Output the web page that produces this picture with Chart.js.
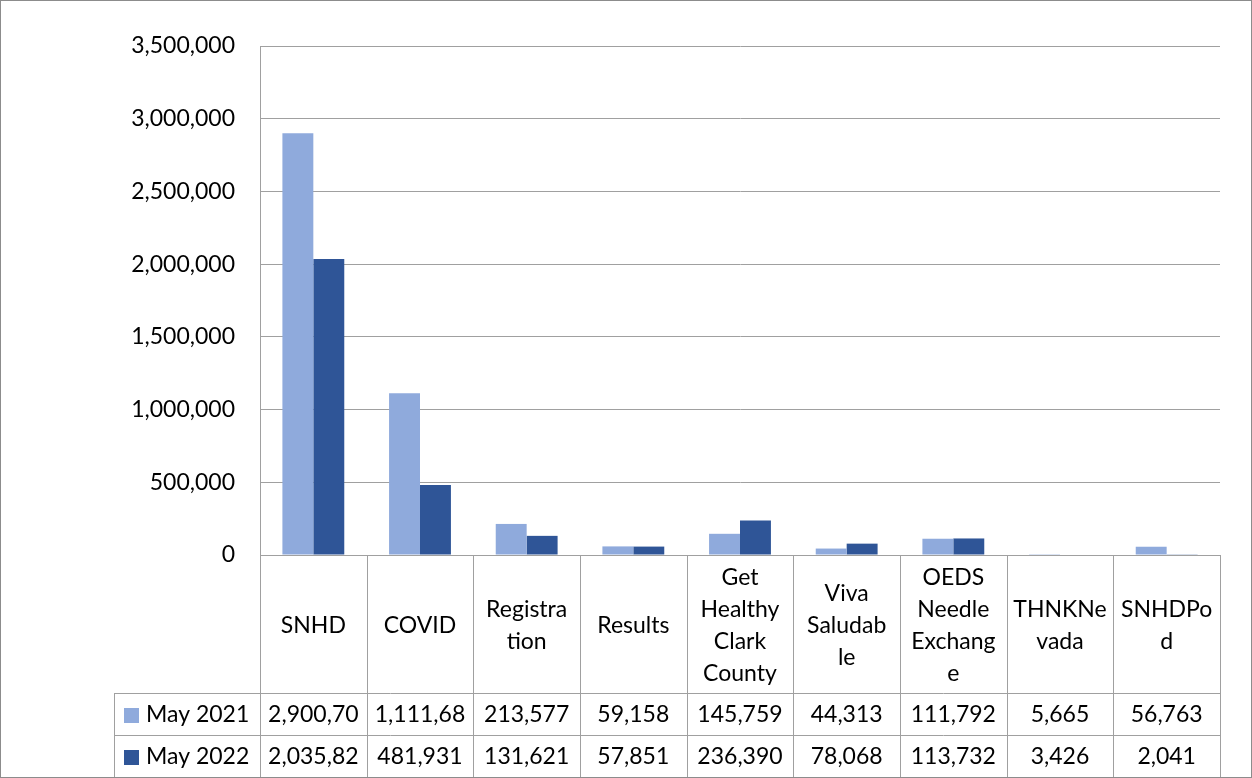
<!DOCTYPE html>
<html>
<head>
<meta charset="utf-8">
<script src="https://cdn.jsdelivr.net/npm/chart.js@4"></script>
<style>
  html, body { margin: 0; padding: 0; background: #fff; }
  #chart { display: block; }
</style>
</head>
<body>
<canvas id="chart" width="1252" height="778"></canvas>
<script>
const categories = [
    ['SNHD'], ['COVID'], ['Registra', 'tion'], ['Results'],
    ['Get', 'Healthy', 'Clark', 'County'], ['Viva', 'Saludab', 'le'],
    ['OEDS', 'Needle', 'Exchang', 'e'], ['THNKNe', 'vada'], ['SNHDPo', 'd']
]
const seriesNames = ['May 2021', 'May 2022']
const may2021 = [2900700, 1111680, 213577, 59158, 145759, 44313, 111792, 5665, 56763]
const may2022 = [2035820, 481931, 131621, 57851, 236390, 78068, 113732, 3426, 2041]
const yTicks = [0, 500000, 1000000, 1500000, 2000000, 2500000, 3000000, 3500000]

const colors = ['#8FAADC', '#2F5597']
const gridColor = '#A0A0A0'
const fontFamily = 'Lato, "Open Sans", sans-serif'
const fontSize = 23
const fmt = n => n.toLocaleString('en-US')

const canvas = document.getElementById('chart')

// draws the data table under the plot, aligned to the category columns
const dataTable = {
    id: 'dataTable',
    afterDraw(chart) {
        const ctx = chart.ctx
        const area = chart.chartArea
        const n = categories.length
        const colW = (area.right - area.left) / n
        const headTop = area.bottom
        const headBottom = 693
        const rowH = 42
        const tableLeft = 114
        const tableBottom = headBottom + rowH * 2

        ctx.save()
        ctx.strokeStyle = gridColor
        ctx.lineWidth = 1
        ctx.beginPath()
        // verticals
        for (let i = 0; i <= n; i++) {
            const x = Math.round(area.left + i * colW) + 0.5
            ctx.moveTo(x, headTop)
            ctx.lineTo(x, tableBottom)
        }
        ctx.moveTo(tableLeft + 0.5, headBottom)
        ctx.lineTo(tableLeft + 0.5, tableBottom)
        // horizontals
        ctx.moveTo(area.left, headTop + 0.5)
        ctx.lineTo(area.right, headTop + 0.5)
        for (let r = 0; r <= 2; r++) {
            const y = headBottom + r * rowH + 0.5
            ctx.moveTo(tableLeft, y)
            ctx.lineTo(area.right, y)
        }
        ctx.stroke()

        ctx.fillStyle = '#000'
        ctx.font = `${fontSize}px ${fontFamily}`
        ctx.textAlign = 'center'
        ctx.textBaseline = 'middle'

        // header labels
        const lineH = 32
        categories.forEach((lines, i) => {
            const cx = area.left + (i + 0.5) * colW
            const cy = (headTop + headBottom) / 2 + 2
            const y0 = cy - (lines.length - 1) * lineH / 2
            lines.forEach((t, k) => ctx.fillText(t, cx, y0 + k * lineH))
        })

        // value rows
        const series = [may2021, may2022]
        series.forEach((vals, r) => {
            const cy = headBottom + r * rowH + rowH / 2 + 1
            // legend cell
            ctx.fillStyle = colors[r]
            ctx.fillRect(124, cy - 7, 15, 15)
            ctx.fillStyle = '#000'
            ctx.textAlign = 'left'
            ctx.fillText(seriesNames[r], 146, cy)
            ctx.textAlign = 'center'
            vals.forEach((v, i) => {
                let t = fmt(v)
                while (ctx.measureText(t).width > colW - 8) t = t.slice(0, -1)
                ctx.fillText(t, area.left + (i + 0.5) * colW, cy)
            })
        })

        // outer frame
        ctx.strokeStyle = '#8C8C8C'
        ctx.strokeRect(0.5, 0.5, chart.width - 1, chart.height - 1)
        ctx.restore()
    }
}

new Chart(canvas, {
    type: 'bar',
    data: {
        labels: categories.map(c => c.join(' ')),
        datasets: [
            { label: seriesNames[0], data: may2021, backgroundColor: colors[0] },
            { label: seriesNames[1], data: may2022, backgroundColor: colors[1] }
        ]
    },
    options: {
        responsive: false,
        animation: false,
        devicePixelRatio: 1,
        categoryPercentage: 0.58,
        barPercentage: 1.0,
        layout: { padding: { left: 0, right: 32, top: 46, bottom: 223 } },
        plugins: {
            legend: { display: false },
            tooltip: { enabled: false }
        },
        scales: {
            x: { display: false },
            y: {
                min: 0,
                max: 3500000,
                afterBuildTicks: s => { s.ticks = yTicks.map(v => ({ value: v })) },
                afterFit: s => { s.width = 260 },
                ticks: {
                    padding: 25,
                    color: '#000',
                    font: { family: fontFamily, size: fontSize },
                    callback: v => fmt(v)
                },
                grid: { color: gridColor, drawTicks: false },
                border: { color: gridColor }
            }
        }
    },
    plugins: [dataTable]
})
</script>
</body>
</html>
